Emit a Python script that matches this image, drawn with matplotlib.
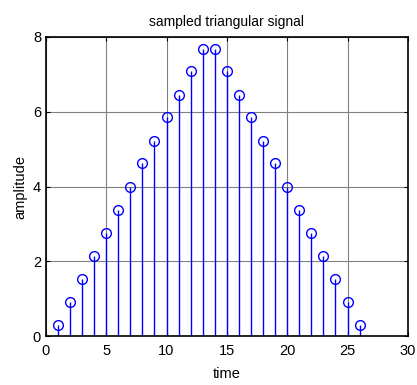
import matplotlib
matplotlib.use("Agg")
import matplotlib.pyplot as plt

time = list(range(1, 27))
amplitude = [0.31, 0.92, 1.54, 2.15, 2.77, 3.38, 4.00, 4.62, 5.23, 5.85, 6.46, 7.08, 7.69,
             7.69, 7.08, 6.46, 5.85, 5.23, 4.62, 4.00, 3.38, 2.77, 2.15, 1.54, 0.92, 0.31]
xticks = [0, 5, 10, 15, 20, 25, 30]
yticks = [0, 2, 4, 6, 8]

plt.rcParams['font.family'] = ['Liberation Sans', 'DejaVu Sans']
fig = plt.figure(figsize=(4.17, 3.85), dpi=100)
ax = fig.add_axes([0.110, 0.127, 0.868, 0.777])

markerline, stemlines, baseline = ax.stem(time, amplitude, basefmt=' ')
plt.setp(stemlines, color='blue', linewidth=1)
plt.setp(markerline, color='blue', marker='o', markerfacecolor='none',
         markeredgecolor='blue', markersize=7, markeredgewidth=1)

ax.set_xlim(0, 30)
ax.set_ylim(0, 8)
ax.set_xticks(xticks)
ax.set_yticks(yticks)
ax.grid(True, color='#808080', linewidth=0.8)
ax.set_axisbelow(True)
ax.tick_params(direction='in', length=3, labelsize=10.5, top=True, right=True)
ax.tick_params(axis='x', pad=6)
for s in ax.spines.values():
    s.set_linewidth(1.2)
ax.set_title('sampled triangular signal', fontsize=10, pad=8)
ax.set_xlabel('time', fontsize=10.5, labelpad=6)
ax.set_ylabel('amplitude', fontsize=10.5, labelpad=4)

fig.savefig('out.png', dpi=100)
